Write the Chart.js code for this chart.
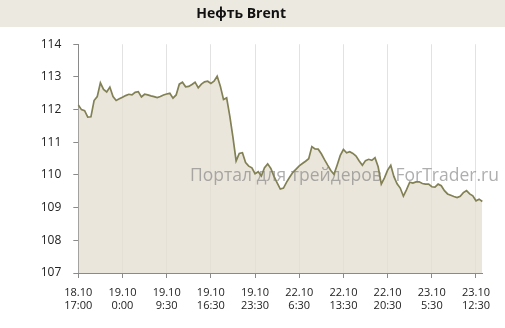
<!DOCTYPE html>
<html>
<head>
<meta charset="utf-8">
<script src="https://cdn.jsdelivr.net/npm/chart.js@4/dist/chart.umd.min.js"></script>
<style>
  html, body { margin: 0; padding: 0; background: #fff; }
  #wrap { width: 505px; height: 328px; position: relative; }
</style>
</head>
<body>
<div id="wrap"><canvas id="brent"></canvas></div>
<script>
// Нефть Brent, значения по точкам (шаг ~ полчаса торгового времени)
const prices = [
    112.14, 112.00, 111.97, 111.77, 111.78, 112.28, 112.40, 112.82, 112.62, 112.54,
    112.69, 112.40, 112.28, 112.33, 112.38, 112.43, 112.47, 112.45, 112.53, 112.55,
    112.39, 112.47, 112.45, 112.42, 112.40, 112.37, 112.40, 112.45, 112.48, 112.50,
    112.35, 112.45, 112.78, 112.84, 112.70, 112.71, 112.77, 112.84, 112.67, 112.78,
    112.85, 112.87, 112.80, 112.87, 113.02, 112.72, 112.31, 112.36, 111.80, 111.15,
    110.43, 110.66, 110.68, 110.38, 110.27, 110.22, 110.04, 110.10, 109.97, 110.22,
    110.34, 110.20, 109.96, 109.76, 109.57, 109.60, 109.78, 109.94, 110.08, 110.18,
    110.28, 110.35, 110.42, 110.50, 110.87, 110.80, 110.79, 110.65, 110.47, 110.30,
    110.14, 110.02, 110.30, 110.60, 110.78, 110.68, 110.71, 110.66, 110.58, 110.43,
    110.30, 110.44, 110.48, 110.45, 110.53, 110.25, 109.72, 109.91, 110.15, 110.30,
    109.95, 109.73, 109.60, 109.35, 109.55, 109.78, 109.75, 109.79, 109.79, 109.74,
    109.72, 109.72, 109.64, 109.63, 109.72, 109.67, 109.52, 109.42, 109.38, 109.34,
    109.31, 109.35, 109.46, 109.52, 109.42, 109.36, 109.21, 109.26, 109.19
];

// подписи оси X (каждые 14 точек)
const tickLabels = [
    ['18.10', '17:00'], ['19.10', '0:00'], ['19.10', '9:30'], ['19.10', '16:30'],
    ['19.10', '23:30'], ['22.10', '6:30'], ['22.10', '13:30'], ['22.10', '20:30'],
    ['23.10', '5:30'], ['23.10', '12:30']
];
const tickStep = 14;

const yMin = 107;
const yMax = 114;

const titleText = 'Нефть Brent';
const watermark = 'Портал для трейдеров   ForTrader.ru';

const categories = prices.map((v, i) => String(i));

const bandPlugin = {
    id: 'titleBand',
    beforeDraw(chart) {
        const c = chart.ctx;
        c.save();
        c.fillStyle = '#ece9e1';
        c.fillRect(0, 0, chart.width, 27);
        c.restore();
    }
};

const watermarkPlugin = {
    id: 'watermark',
    beforeDatasetsDraw(chart) {
        const c = chart.ctx;
        c.save();
        c.font = '17.5px "Open Sans", sans-serif';
        c.fillStyle = 'rgba(130, 130, 130, 0.65)';
        c.textBaseline = 'alphabetic';
        c.fillText(watermark, 190, 181);
        c.restore();
    }
};

new Chart(document.getElementById('brent').getContext('2d'), {
    type: 'line',
    data: {
        labels: categories,
        datasets: [{
            data: prices,
            borderColor: '#828055',
            borderWidth: 1.7,
            backgroundColor: 'rgba(230, 224, 211, 0.8)',
            fill: 'start',
            pointRadius: 0,
            tension: 0
        }]
    },
    options: {
        responsive: true,
        maintainAspectRatio: false,
        animation: false,
        layout: {
            padding: { left: 0, right: 22.7, top: 0, bottom: 0 }
        },
        plugins: {
            legend: { display: false },
            tooltip: { enabled: false },
            filler: { drawTime: 'beforeDatasetsDraw' },
            title: {
                display: true,
                text: titleText,
                color: '#111',
                font: { family: '"Open Sans", sans-serif', size: 14, weight: 'bold' },
                padding: { top: 6, bottom: 21.5 }
            }
        },
        scales: {
            x: {
                type: 'category',
                offset: false,
                afterFit: function (scale) { scale.height = 55; },
                border: { color: '#8a8a8a', width: 1 },
                grid: {
                    color: '#e2e2e2',
                    tickColor: '#8a8a8a',
                    tickLength: 5,
                    drawOnChartArea: true
                },
                ticks: {
                    autoSkip: false,
                    maxRotation: 0,
                    padding: 8,
                    color: '#222',
                    font: { family: '"Open Sans", sans-serif', size: 11, lineHeight: 1.2 },
                    callback: function (value, index) {
                        if (index % tickStep !== 0) return null;
                        return tickLabels[index / tickStep];
                    }
                }
            },
            y: {
                min: yMin,
                max: yMax,
                afterFit: function (scale) { scale.width = 78.3; },
                border: { color: '#8a8a8a', width: 1 },
                grid: {
                    drawOnChartArea: false,
                    tickColor: '#8a8a8a',
                    tickLength: 5
                },
                ticks: {
                    stepSize: 1,
                    padding: 12,
                    color: '#222',
                    font: { family: '"Open Sans", sans-serif', size: 12 }
                }
            }
        }
    },
    plugins: [bandPlugin, watermarkPlugin]
});
</script>
</body>
</html>
